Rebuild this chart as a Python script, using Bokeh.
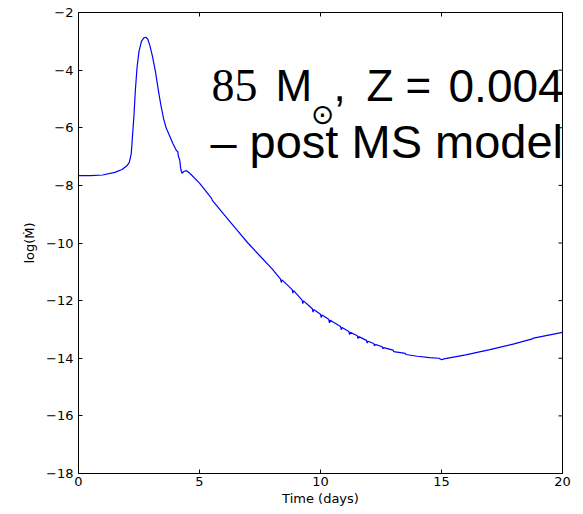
import math
from bokeh.plotting import figure
from bokeh.models import FixedTicker, Label, Range1d
from bokeh.embed import file_html
from bokeh.resources import INLINE

# ---- data ----
time_days = [
    0.0, 0.5, 1.0, 1.5, 1.8, 2.0, 2.1, 2.18, 2.23, 2.29, 2.35, 2.42, 2.50, 2.60,
    2.70, 2.78, 2.86, 2.95, 3.05, 3.18, 3.30, 3.40, 3.52, 3.62, 3.75, 3.90, 4.05,
    4.10, 4.13, 4.18, 4.23, 4.28, 4.35, 4.46, 4.60, 5.0, 5.5, 5.53, 6.0, 6.5, 7.0,
    7.5, 8.0, 8.35, 8.38, 8.41, 8.83, 8.86, 8.89, 9.24, 9.27, 9.30, 9.66, 9.69,
    9.72, 10.0, 10.03, 10.06, 10.34, 10.37, 10.40, 10.83, 10.86, 10.89, 11.17,
    11.20, 11.23, 11.52, 11.55, 11.58, 11.90, 11.93, 11.96, 12.20, 12.23, 12.26,
    12.55, 12.58, 12.61, 13.0, 13.03, 13.5, 13.53, 14.0, 14.5, 14.9, 15.0, 15.1,
    16.0, 17.0, 18.0, 18.75, 18.8, 20.0,
]
log_mdot = [
    -7.66, -7.66, -7.64, -7.55, -7.45, -7.32, -7.20, -6.90, -6.30, -5.60, -4.70,
    -3.90, -3.35, -3.00, -2.88, -2.86, -2.92, -3.15, -3.50, -4.05, -4.70, -5.20,
    -5.70, -6.00, -6.25, -6.55, -6.80, -6.82, -7.00, -7.10, -7.45, -7.58, -7.52,
    -7.49, -7.58, -7.92, -8.45, -8.52, -9.00, -9.50, -10.00, -10.45, -10.90,
    -11.25, -11.37, -11.28, -11.62, -11.74, -11.65, -11.98, -12.10, -12.01,
    -12.28, -12.40, -12.31, -12.47, -12.59, -12.50, -12.65, -12.77, -12.68,
    -12.90, -13.01, -12.93, -13.07, -13.18, -13.10, -13.22, -13.32, -13.25,
    -13.38, -13.47, -13.41, -13.49, -13.57, -13.52, -13.60, -13.67, -13.63,
    -13.72, -13.77, -13.83, -13.87, -13.93, -13.98, -14.00, -14.05, -14.02,
    -13.88, -13.70, -13.50, -13.33, -13.30, -13.10,
]
x_ticks = [0, 5, 10, 15, 20]
y_ticks = [-2, -4, -6, -8, -10, -12, -14, -16, -18]
x_tick_labels = {t: str(t) for t in x_ticks}
y_tick_labels = {t: "\u2212" + str(abs(t)) for t in y_ticks}

x_lo, x_hi = x_ticks[0], x_ticks[-1]
y_lo, y_hi = y_ticks[-1], y_ticks[0]

p = figure(width=583, height=514, output_backend="svg", toolbar_location=None,
           x_range=Range1d(x_lo, x_hi), y_range=Range1d(y_lo, y_hi),
           min_border_left=78, min_border_right=21, min_border_top=12,
           min_border_bottom=41, x_axis_label="Time (days)",
           y_axis_label="log(M\u0307)")
p.background_fill_color = "white"
p.border_fill_color = "white"
p.grid.visible = False
p.outline_line_color = "black"
p.outline_line_width = 1

for ax in (p.xaxis[0], p.yaxis[0]):
    ax.major_tick_in = 4
    ax.major_tick_out = 0
    ax.minor_tick_line_color = None
    ax.axis_line_color = "black"
    ax.major_tick_line_color = "black"
    ax.major_label_text_font = "DejaVu Sans"
    ax.major_label_text_font_size = "13px"
    ax.major_label_text_color = "black"
    ax.axis_label_text_font = "DejaVu Sans"
    ax.axis_label_text_font_size = "13px"
    ax.axis_label_text_font_style = "normal"
    ax.axis_label_text_color = "black"

p.xaxis[0].ticker = FixedTicker(ticks=x_ticks)
p.xaxis[0].major_label_overrides = x_tick_labels
p.xaxis[0].major_label_standoff = 3
p.xaxis[0].axis_label_standoff = 2
p.yaxis[0].ticker = FixedTicker(ticks=y_ticks)
p.yaxis[0].major_label_overrides = y_tick_labels
p.yaxis[0].major_label_standoff = 5
p.yaxis[0].axis_label_standoff = 6

# inward ticks on the right and top edges (half of each dash is clipped by the frame)
p.scatter([x_hi] * len(y_ticks), y_ticks, marker="dash", size=8,
          line_color="black", line_width=1)
p.scatter(x_ticks, [y_hi] * len(x_ticks), marker="dash", size=8, angle=math.pi / 2,
          line_color="black", line_width=1)

p.line(time_days, log_mdot, line_color="#0000ff", line_width=1.2)

def lab(x, y, t, font, size):
    p.add_layout(Label(x=x, y=y, text=t, text_font=font, text_font_size=size,
                       text_color="black", text_baseline="alphabetic"))

y1 = -4.54
lab(5.50, y1, "85", "Liberation Serif", "46px")
lab(8.14, y1, "M", "Liberation Sans", "44px")
lab(9.60, -5.55, "\u2299", "DejaVu Sans", "28px")
lab(10.54, y1, ",", "Liberation Sans", "44px")
lab(11.90, y1, "Z", "Liberation Sans", "44px")
lab(13.51, y1, "=", "Liberation Sans", "44px")
lab(15.29, y1, "0.004", "Liberation Sans", "46px")
lab(5.45, -6.48, "\u2013 post MS model", "Liberation Sans", "47px")

open("out.html", "w").write(file_html(p, INLINE))
